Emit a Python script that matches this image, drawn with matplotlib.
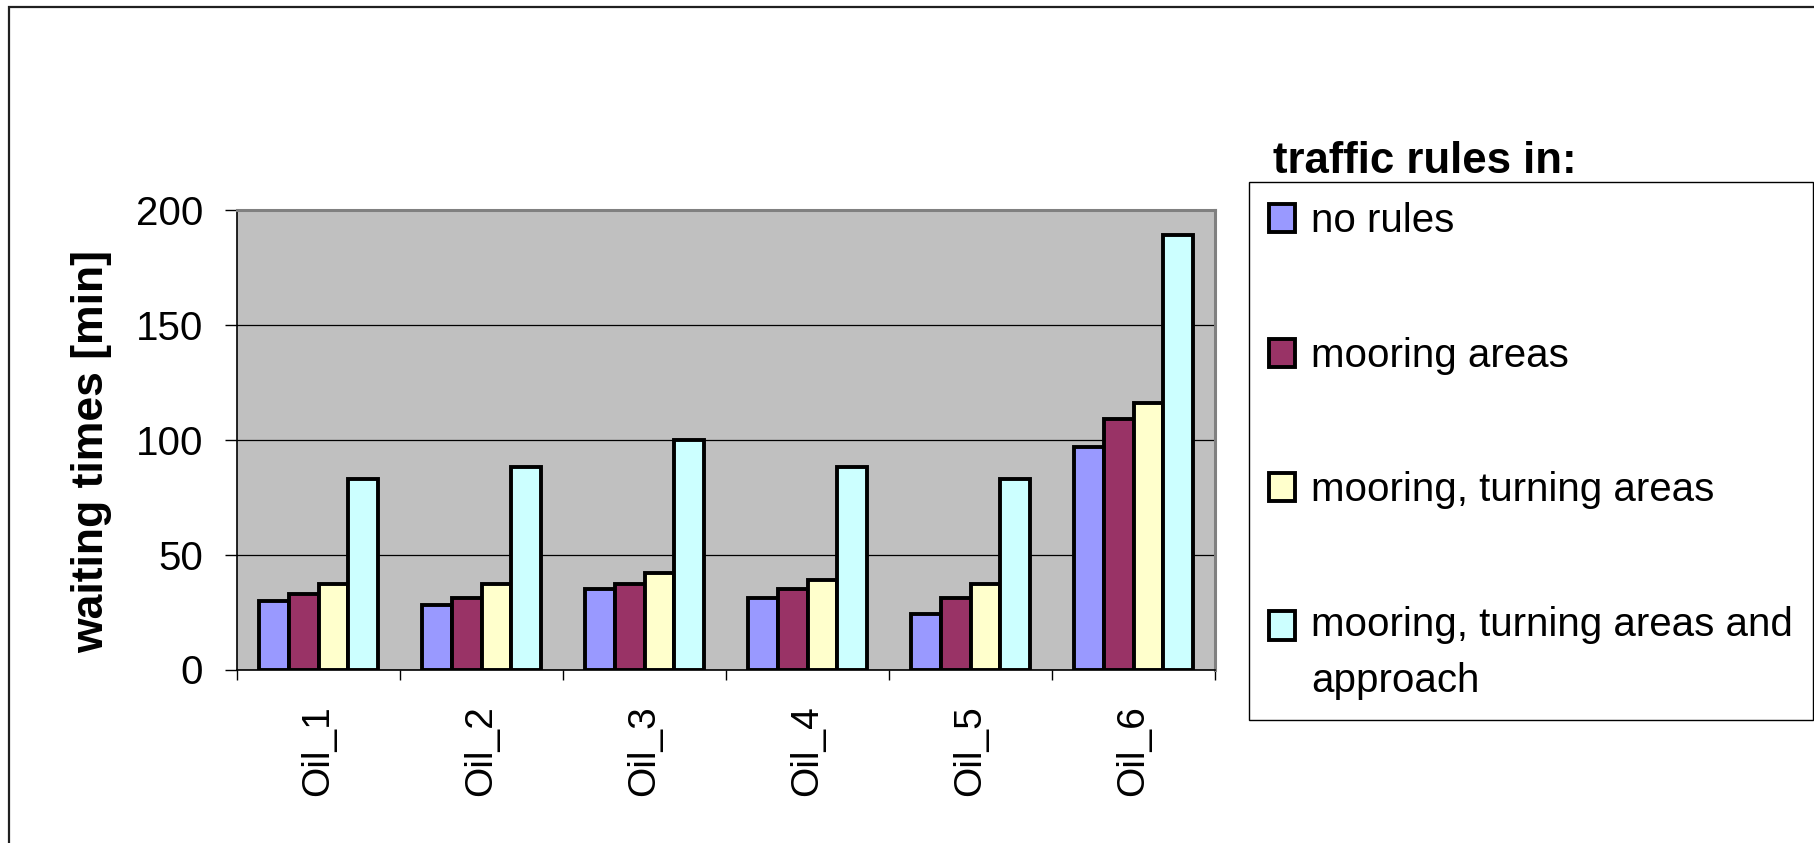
import numpy as np
import matplotlib
matplotlib.use("Agg")
import matplotlib.pyplot as plt
from matplotlib.patches import Rectangle
from matplotlib.legend_handler import HandlerPatch, update_from_first_child

# waiting times per oil terminal for each traffic rule scenario [min]
terminals = ["Oil_1", "Oil_2", "Oil_3", "Oil_4", "Oil_5", "Oil_6"]
no_rules = [30, 28, 35, 31, 24, 97]
mooring_areas = [33, 31, 37, 35, 31, 109]
turning_areas = [37, 37, 42, 39, 37, 116]
approach_too = [83, 88, 100, 88, 83, 189]

scenario_labels = ["no rules", "mooring areas", "mooring, turning areas",
                   "mooring, turning areas and\napproach"]
scenario_colors = ["#9999FF", "#993366", "#FFFFCC", "#CCFFFF"]
y_ticks = [0, 50, 100, 150, 200]

plt.rcParams["font.family"] = ["Liberation Sans", "DejaVu Sans"]


class FirstLineHandler(HandlerPatch):
    """Square legend key that sits next to the first line of a wrapped label."""

    def __init__(self, lift):
        super().__init__(update_func=update_from_first_child)
        self.lift = lift

    def _create_patch(self, legend, orig_handle, xdescent, ydescent,
                      width, height, fontsize):
        return Rectangle((-xdescent, -ydescent + self.lift), width, height)


W, H = 1814, 843
fig = plt.figure(figsize=(W / 100, H / 100), dpi=100)
ax = fig.add_axes([237 / W, 1 - 669.5 / H, (1215 - 237) / W, (669.5 - 210) / H])
ax.set_facecolor("#C0C0C0")

x = np.arange(len(terminals))
bw = 1 / 5.5
series = [no_rules, mooring_areas, turning_areas, approach_too]
containers = []
for i, (vals, col, lab) in enumerate(zip(series, scenario_colors, scenario_labels)):
    bc = ax.bar(x + (i - 1.5) * bw, vals, width=bw, color=col,
                edgecolor="black", linewidth=2.8, label=lab, zorder=3)
    containers.append(bc)

ax.set_xlim(-0.5, len(terminals) - 0.5)
ax.set_ylim(0, 200)
ax.set_yticks(y_ticks)
ax.tick_params(axis="y", direction="out", length=8.5, width=1, pad=16,
               labelsize=29, color="black")
ax.yaxis.grid(True, color="black", linewidth=0.9, zorder=1)
ax.set_axisbelow(True)

# tick marks between groups, labels at group centres
ax.set_xticks(np.arange(len(terminals) + 1) - 0.5)
ax.set_xticklabels([])
ax.tick_params(axis="x", which="major", direction="out", length=7.5, width=1)
ax.set_xticks(x, labels=terminals, minor=True)
ax.tick_params(axis="x", which="minor", length=0, pad=26, labelsize=28,
               labelrotation=90)

for side in ("top", "right"):
    ax.spines[side].set_color("#808080")
    ax.spines[side].set_linewidth(2.2)
for side in ("left", "bottom"):
    ax.spines[side].set_color("black")
    ax.spines[side].set_linewidth(1.2)

ax.set_ylabel("waiting times [min]", fontsize=32, fontweight="bold")
ax.yaxis.set_label_coords(-0.128, 0.4755)

leg = fig.legend(containers, scenario_labels, loc="upper left",
                 bbox_to_anchor=(1249 / W, 1 - 182 / H), bbox_transform=fig.transFigure,
                 borderaxespad=0, fontsize=29, frameon=True, fancybox=False,
                 edgecolor="black", framealpha=1, handlelength=0.65,
                 handleheight=0.7, handletextpad=0.4, labelspacing=2.4,
                 borderpad=0.5,
                 handler_map={containers[3]: FirstLineHandler(lift=20.5)})
leg.get_frame().set_linewidth(1.0)
leg.get_texts()[3].set_linespacing(1.6)

fig.text(1273 / W, 1 - 173 / H, "traffic rules in:", fontsize=31.5,
         fontweight="bold", va="baseline", ha="left")

# chart frame, open at the right and bottom
fig.add_artist(Rectangle((9 / W, -0.2), 1.5, 1.2 - 7 / H, transform=fig.transFigure,
                         fill=False, edgecolor="#202020", linewidth=1.6))

fig.savefig("out.png", dpi=100, facecolor="white")
